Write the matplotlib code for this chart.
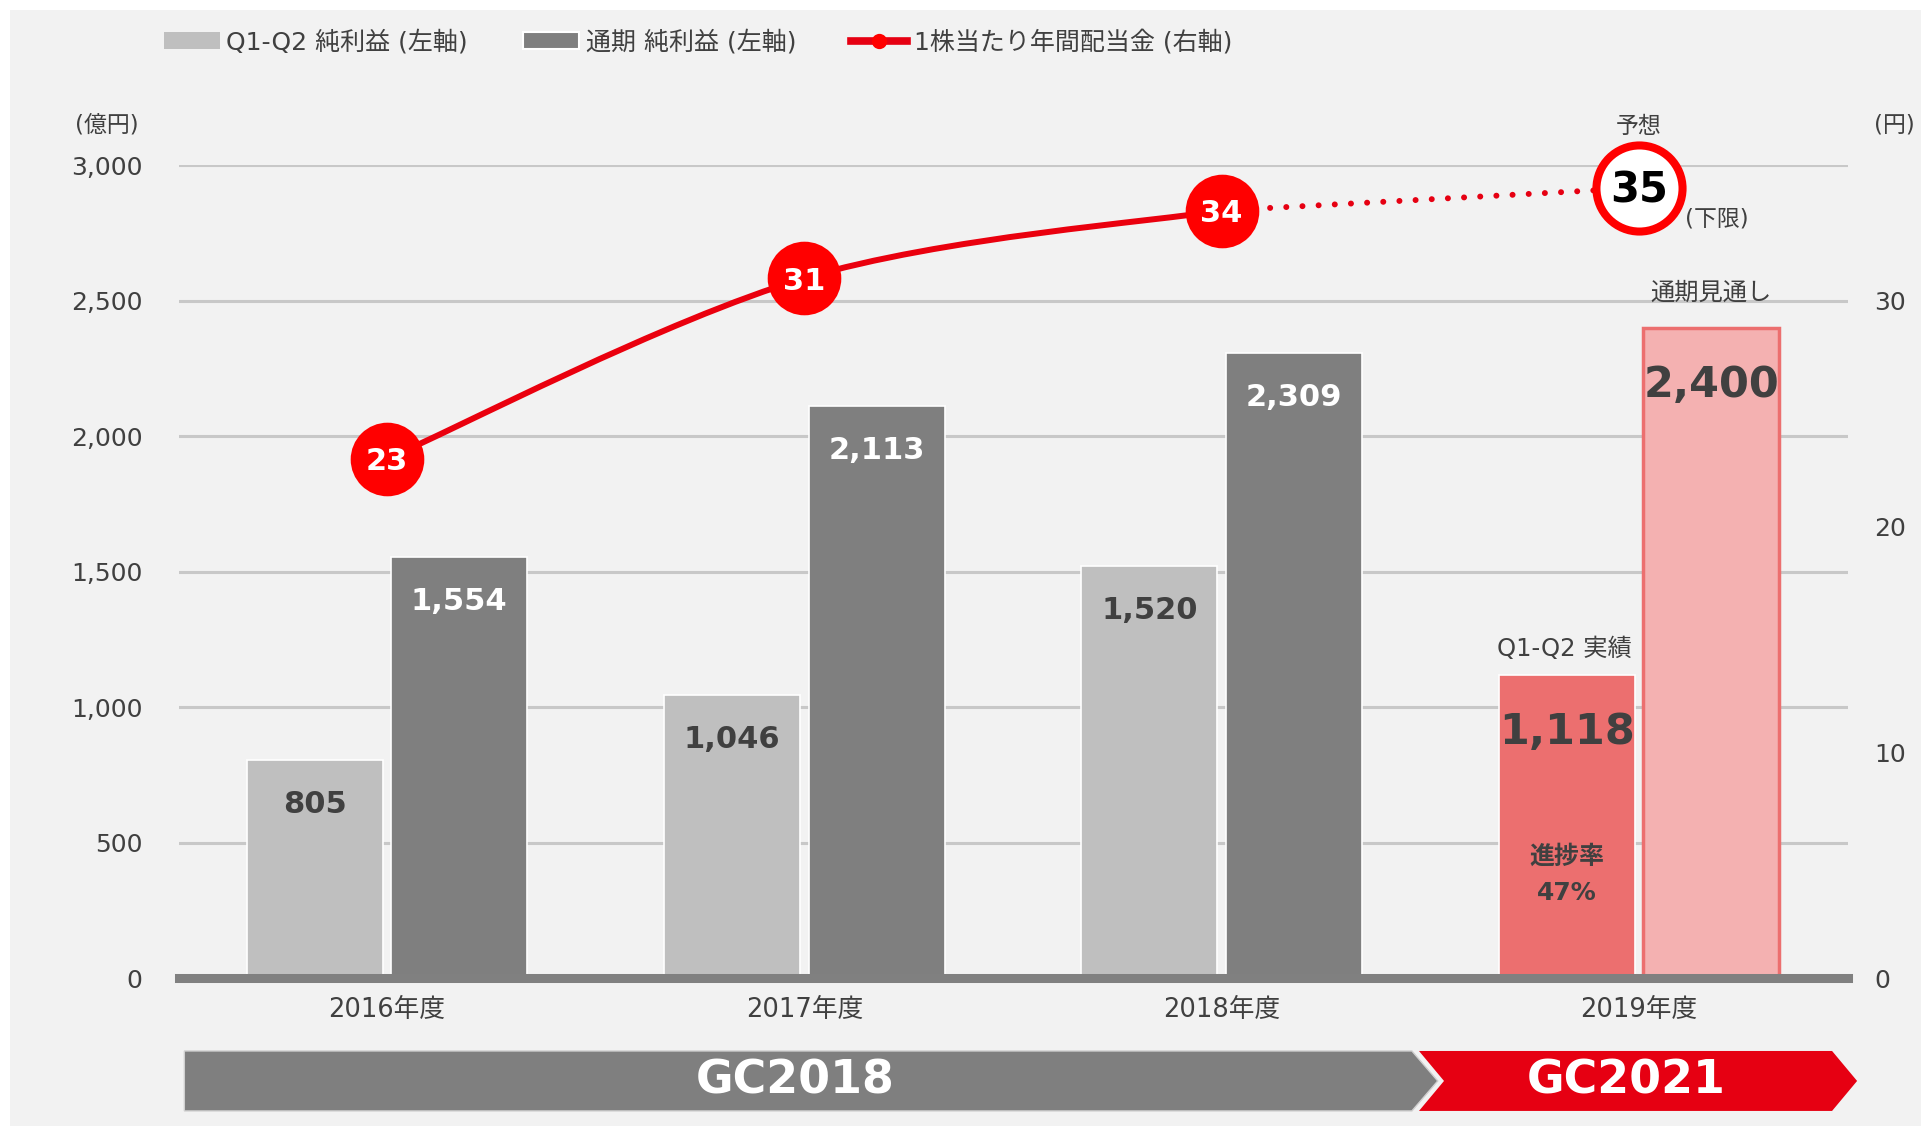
import numpy as np
import matplotlib.pyplot as plt
import matplotlib.transforms as mtransforms
from matplotlib.patches import Polygon, Rectangle, Patch, PathPatch
from matplotlib.path import Path
from matplotlib.lines import Line2D

plt.rcParams['font.family'] = ['DejaVu Sans', 'Noto Sans CJK JP']

# data
years = ['2016年度', '2017年度', '2018年度', '2019年度']
q1q2_profit = [805, 1046, 1520, 1118]
full_profit = [1554, 2113, 2309, 2400]
dividend = [23, 31, 34, 35]
left_ticks = [0, 500, 1000, 1500, 2000, 2500, 3000]
right_ticks = [0, 10, 20, 30]
legend_labels = ['Q1-Q2 純利益 (左軸)', '通期 純利益 (左軸)', '1株当たり年間配当金 (右軸)']

txt_col = '#404040'
red = '#e60012'

fig = plt.figure(figsize=(19.21, 11.26), dpi=100)
fig.patches.append(Rectangle((10 / 1921, 0), 1, 1 - 10 / 1126, transform=fig.transFigure,
                             facecolor='#f2f2f2', edgecolor='none', zorder=-10))

ax = fig.add_axes([178.5 / 1921, 148 / 1126, 1669 / 1921, 812.6 / 1126])
ax.set_facecolor('none')

x = np.arange(len(years))
w = 0.326
off = 0.173

q1_colors = ['#bfbfbf'] * 3 + ['#ec6f6f']
full_colors = ['#7f7f7f'] * 3 + ['#f4b1b1']
full_edges = ['white'] * 3 + ['#ec6f6f']
full_lw = [1.2] * 3 + [2.5]

ax.bar(x - off, q1q2_profit, w, color=q1_colors, edgecolor='white', linewidth=1.2, zorder=2)
ax.bar(x + off, full_profit, w, color=full_colors, edgecolor=full_edges, linewidth=full_lw, zorder=2)

# value labels inside the bars
for i in range(len(years)):
    big = i == 3
    size = 31 if big else 22
    dy = -41 if big else -32
    ax.annotate(f'{q1q2_profit[i]:,}', (x[i] - off, q1q2_profit[i]), xytext=(0, dy),
                textcoords='offset points', ha='center', va='center', fontsize=size,
                fontweight='bold', color=txt_col, zorder=5)
    ax.annotate(f'{full_profit[i]:,}', (x[i] + off, full_profit[i]), xytext=(0, dy),
                textcoords='offset points', ha='center', va='center', fontsize=size,
                fontweight='bold', color=txt_col if big else 'white', zorder=5)

ax.annotate('Q1-Q2 実績', (x[3] - off, q1q2_profit[3]), xytext=(-2, 19), textcoords='offset points',
            ha='center', va='center', fontsize=17.5, color=txt_col)
ax.annotate('通期見通し', (x[3] + off, full_profit[3]), xytext=(0, 25), textcoords='offset points',
            ha='center', va='center', fontsize=17.5, color=txt_col)
rate = round(100 * q1q2_profit[3] / full_profit[3])
ax.annotate('進捗率', (x[3] - off, q1q2_profit[3]), xytext=(0, -131), textcoords='offset points',
            ha='center', va='center', fontsize=18, fontweight='bold', color=txt_col)
ax.annotate(f'{rate}%', (x[3] - off, q1q2_profit[3]), xytext=(0, -157), textcoords='offset points',
            ha='center', va='center', fontsize=18, fontweight='bold', color=txt_col)

ax.set_xlim(-0.5, 3.5)
ax.set_ylim(0, 3000)
ax.set_yticks(left_ticks)
ax.set_yticklabels([f'{v:,}' for v in left_ticks])
ax.set_xticks(x)
ax.set_xticklabels(years)
ax.tick_params(axis='y', length=0, pad=26, labelsize=18, labelcolor=txt_col)
ax.tick_params(axis='x', length=0, pad=14, labelsize=18.5, labelcolor=txt_col)
ax.grid(axis='y', color='#c8c8c8', lw=2.2)
ax.set_axisbelow(True)
for s in ['top', 'left', 'right']:
    ax.spines[s].set_visible(False)
ax.spines['bottom'].set_color('#808080')
ax.spines['bottom'].set_linewidth(6.5)
ax.spines['bottom'].set_zorder(3)

# dividend on the right axis
ax2 = ax.twinx()
ax2.set_ylim(0, 36)
ax2.set_yticks(right_ticks)
ax2.tick_params(axis='y', length=0, pad=19, labelsize=18, labelcolor=txt_col)
for s in ax2.spines.values():
    s.set_visible(False)

# smoothed line through actual results (bezier like excel smoothing)
pts = np.column_stack([x[:3], dividend[:3]]).astype(float)
ext = np.vstack([pts[0], pts, pts[-1]])
verts = [pts[0]]
codes = [Path.MOVETO]
for i in range(len(pts) - 1):
    p0, p1, p2, p3 = ext[i], ext[i + 1], ext[i + 2], ext[i + 3]
    verts += [p1 + (p2 - p0) / 6, p2 - (p3 - p1) / 6, p2]
    codes += [Path.CURVE4] * 3
ax2.add_patch(PathPatch(Path(verts, codes), fill=False, edgecolor='#ea000e', lw=4.3,
                        capstyle='round', zorder=3))
ax2.plot(x[2:], dividend[2:], color=red, lw=4.3, linestyle=(0, (0.01, 2.7)),
         dash_capstyle='round', zorder=3)
ax2.plot(x[:3], dividend[:3], 'o', ms=53, color='#ff0000', mec='none', zorder=4, clip_on=False)
ax2.plot(x[3], dividend[3], 'o', ms=62, mfc='white', mec='#ff0000', mew=5.8, zorder=4, clip_on=False)
for i in range(3):
    ax2.annotate(str(dividend[i]), (x[i], dividend[i]), xytext=(0, -2), textcoords='offset points',
                 ha='center', va='center', fontsize=22, fontweight='bold', color='white', zorder=5)
ax2.annotate(str(dividend[3]), (x[3], dividend[3]), xytext=(0, -2), textcoords='offset points',
             ha='center', va='center', fontsize=30, fontweight='bold', color='black', zorder=5)
ax2.annotate('予想', (x[3], dividend[3]), xytext=(0, 44), textcoords='offset points',
             ha='center', va='center', fontsize=16.5, color=txt_col)
ax2.annotate('(下限)', (x[3], dividend[3]), xytext=(33, -22), textcoords='offset points',
             ha='left', va='center', fontsize=16.5, color=txt_col)

# units
fig.text(107 / 1921, 1 - 125 / 1126, '(億円)', ha='center', va='center', fontsize=16.5, color=txt_col)
fig.text(1894 / 1921, 1 - 125 / 1126, '(円)', ha='center', va='center', fontsize=16.5, color=txt_col)

# mid-term plan banner under the axis
trans = mtransforms.blended_transform_factory(ax.transData, ax.transAxes)
yt, ym, yb = -0.0898, -0.1267, -0.1636
gray_poly = Polygon([(-0.486, yt), (2.456, yt), (2.518, ym), (2.456, yb), (-0.486, yb)],
                    closed=True, transform=trans, facecolor='#7f7f7f', edgecolor='#d0d0d0',
                    lw=1, clip_on=False)
red_poly = Polygon([(2.473, yt), (3.463, yt), (3.523, ym), (3.463, yb), (2.473, yb), (2.533, ym)],
                   closed=True, transform=trans, facecolor=red, edgecolor='none', clip_on=False)
ax.add_patch(gray_poly)
ax.add_patch(red_poly)
ax.text(0.978, ym, 'GC2018', transform=trans, ha='center', va='center', fontsize=33,
        fontweight='bold', color='white')
ax.text(2.97, ym, 'GC2021', transform=trans, ha='center', va='center', fontsize=33,
        fontweight='bold', color='white')

# legend
handles = [Patch(facecolor='#bfbfbf', edgecolor='none'),
           Patch(facecolor='#7f7f7f', edgecolor='white', lw=1.5),
           Line2D([], [], color=red, lw=5.5, marker='o', ms=11, mfc='#ff0000', mec='none')]
fig.legend(handles, legend_labels, loc='center left', bbox_to_anchor=(164 / 1921, 1 - 42 / 1126),
           ncol=3, frameon=False, fontsize=18, handlelength=2.25, handletextpad=0.25,
           columnspacing=2.2, borderpad=0, borderaxespad=0, labelcolor=txt_col)

fig.savefig('out.png', dpi=100)
